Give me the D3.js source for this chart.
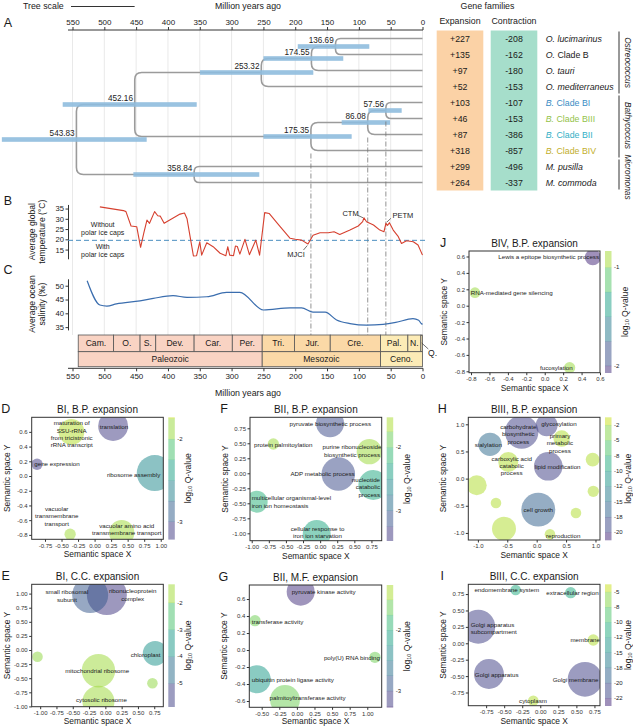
<!DOCTYPE html>
<html><head><meta charset="utf-8">
<script src="https://cdn.jsdelivr.net/npm/d3@7/dist/d3.min.js"></script>
<style>
body{margin:0;background:#fff}
svg{display:block}
text{font-family:"Liberation Sans",Arial,Helvetica,sans-serif;fill:#1a1a1a}
</style>
</head><body>
<svg id="c" width="633" height="726"></svg>
<script>
// ================= DATA =================
const ageTicks = [550,500,450,400,350,300,250,200,150,100,50,0];

const tipAbbr = ["O.","O.","O.","O.","B.","B.","B.","B.","M.","M."];
const tipRest = ["lucimarinus","Clade B","tauri","mediterraneus","Clade BI","Clade BIII","Clade BII","Clade BIV","pusilla","commoda"];
const tipRestItalic = [true,false,true,true,false,false,false,false,true,true];
const expansion = [227,135,97,52,103,46,87,318,299,264];
const contraction = [-208,-162,-180,-153,-107,-153,-386,-857,-496,-337];
const genera = ["Ostreococcus","Bathycoccus","Micromonas"];
const genusFirstTip = [0,4,8];
const genusLastTip = [3,7,9];

const nodeIds = ["n136","n174","n253","n57","n86","n175","n452","n358","n543"];
const nodeAges = [136.69,174.55,253.32,57.56,86.08,175.35,452.16,358.84,543.83];
const nodeKids = [[0,1],["n136",2],["n174",3],[4,5],["n57",6],["n86",7],["n253","n175"],[8,9],["n452","n358"]];
const nodeCiOld = [196,250,349.6,85,127,250,565.4,454.4,661];
const nodeCiYoung = [83.6,124.5,171.6,32.7,51,111.3,354.8,256.5,433.4];
const markedNodes = ["n175","n86","n57"];

const tempAges = [507,470,466,458,449,443,438,433,429,421,416,412,406,381,374,370,360,355,350,347,339,329,318,309,306,303,297,294,291,287,279,272,266,262,256,248,241,226,208,200,190,180,172,161,148,139,130,114,101,94,92,88,77,67,60.5,57.5,55,52,46,38,33,25,14.5,7,0];
const tempValues = [35.8,34,33.5,26.5,26.1,16.1,23,29.4,27.8,33.5,31.5,31.3,27.8,32.3,32.8,30,11.9,12,18.8,12.3,18.3,16.4,13.2,12,16.4,12.3,12,16.7,16.5,12.8,20,12.5,16.7,19.6,12.3,33,32.6,27,20.5,20,19.6,17.7,22,23.2,23.2,23.7,22.4,24.5,26.5,28.6,30.5,28.6,27,24.5,23.7,27.8,26.8,28.1,24.5,21.3,18,19.3,18.8,17.2,12.3];
const iceThreshold = 19.5;
const tempTicks = [15,20,25,30,35];
const events = ["MJCI","CTM","PETM"];
const eventAges = [179.5,91.9,57.5];
const eventTemps = [17.7,30.5,27.8];

const salAges = [527,507,496,481,444,423,392,370,339,308,287,250,208,190,172,153,135,114,88,62,42,15,6,2,0];
const salValues = [51.8,43,42.6,43.4,44.5,45.4,46.4,45.8,46,47.6,47.6,41.2,42,42,40.4,40.4,37.6,36.3,35.7,36,36.7,38.1,37.5,36.3,36];
const salTicks = [35,40,45,50];

const periods = ["Cam.","O.","S.","Dev.","Car.","Per.","Tri.","Jur.","Cre.","Pal.","N.",""];
const periodStart = [541,485.4,443.8,419.2,358.9,298.9,251.9,201.3,145,66,23,2.58];
const periodEnd = [485.4,443.8,419.2,358.9,298.9,251.9,201.3,145,66,23,2.58,0];
const periodEra = [0,0,0,0,0,0,1,1,1,2,2,2];
const eras = ["Paleozoic","Mesozoic","Ceno."];
const eraStart = [541,251.9,66];
const eraEnd = [251.9,66,0];

const panelD = [
 {label:["maturation of","SSU-rRNA","from tricistronic","rRNA transcript"], x:-0.35, y:0.60, size:42, q:-1.8, lx:-0.346, ly:0.724},
 {label:["translation"], x:0.28, y:0.68, size:56, q:-3.1, lx:0.293, ly:0.679},
 {label:["gene expression"], x:-0.87, y:0.16, size:8, q:-3.1, lx:-0.912, ly:0.173, anchor:"start"},
 {label:["ribosome assembly"], x:0.91, y:0.04, size:81, q:-2.55, lx:0.59, ly:0.027},
 {label:["vacuolar","transmembrane","transport"], x:-0.37, y:-0.79, size:8, q:-1.85, lx:-0.573, ly:-0.439},
 {label:["vacuolar amino acid","transmembrane transport"], x:0.41, y:-0.77, size:40, q:-1.85, lx:0.486, ly:-0.666}
];
const panelE = [
 {label:["small ribosomal","subunit"], x:-0.233, y:0.975, size:81, q:-5.0, lx:-0.59, ly:1.034},
 {label:["ribonucleoprotein","complex"], x:0.023, y:0.975, size:100, q:-5.6, lx:0.419, ly:1.051},
 {label:["chloroplast"], x:0.764, y:-0.059, size:38, q:-3.6, lx:0.618, ly:-0.071},
 {label:[], x:-1.041, y:-0.119, size:7, q:-1.8},
 {label:["mitochondrial ribosome"], x:-0.106, y:-0.367, size:70, q:-1.7, lx:-0.126, ly:-0.367},
 {label:[], x:0.722, y:-0.59, size:7, q:-1.8},
 {label:["cytosolic ribosome"], x:-0.106, y:-0.917, size:64, q:-1.7, lx:-0.06, ly:-0.869}
];
const panelF = [
 {label:["pyruvate biosynthetic process"], x:0.145, y:0.833, size:49, q:-3.2, lx:0.149, ly:0.822},
 {label:["protein palmitoylation"], x:-0.684, y:0.488, size:8, q:-1.7, lx:-0.966, ly:0.488, anchor:"start"},
 {label:["purine ribonucleoside","biosynthetic process"], x:0.719, y:0.36, size:40, q:-1.7, lx:0.466, ly:0.443},
 {label:["ADP metabolic process"], x:0.266, y:-0.012, size:70, q:-3.2, lx:0.035, ly:0.0},
 {label:["nucleotide","catabolic","process"], x:0.778, y:-0.195, size:56, q:-2.3, lx:0.876, ly:-0.1, anchor:"end"},
 {label:["multicellular organismal-level","iron ion homeostasis"], x:-0.927, y:-0.473, size:30, q:-2.2, lx:-1.0, ly:-0.407, anchor:"start"},
 {label:["cellular response to","iron ion starvation"], x:-0.05, y:-1.012, size:49, q:-2.3, lx:-0.038, ly:-0.917}
];
const panelG = [
 {label:["pyruvate kinase activity"], x:0.054, y:0.686, size:49, q:-3.2, lx:-0.074, ly:0.686, anchor:"start"},
 {label:["transferase activity"], x:-0.595, y:0.345, size:8, q:-1.6, lx:-0.642, ly:0.341, anchor:"start"},
 {label:["poly(U) RNA binding"], x:1.109, y:-0.086, size:8, q:-1.6, lx:1.18, ly:-0.086, anchor:"end"},
 {label:["ubiquitin protein ligase activity"], x:-0.571, y:-0.345, size:49, q:-2.2, lx:-0.642, ly:-0.345, anchor:"start"},
 {label:["palmitoyltransferase activity"], x:-0.169, y:-0.588, size:56, q:-1.6, lx:0.151, ly:-0.556}
];
const panelH = [
 {label:["carbohydrate","biosynthetic","process"], x:-0.255, y:0.858, size:70, q:-20, lx:-0.313, ly:0.963},
 {label:["glycosylation"], x:0.17, y:0.982, size:30, q:-20, lx:0.379, ly:1.013},
 {label:["sialylation"], x:-0.794, y:0.632, size:34, q:-16, lx:-0.823, ly:0.632},
 {label:["primary","metabolic","process"], x:0.425, y:0.737, size:17, q:-2, lx:0.396, ly:0.797},
 {label:["carboxylic acid","catabolic","process"], x:-0.483, y:0.306, size:25, q:-2, lx:-0.425, ly:0.379},
 {label:["lipid modification"], x:0.197, y:0.227, size:51, q:-20, lx:0.357, ly:0.227},
 {label:[], x:0.952, y:0.35, size:12, q:-2},
 {label:[], x:-1.02, y:-0.123, size:25, q:-2},
 {label:[], x:0.963, y:-0.234, size:8, q:-2},
 {label:[], x:-0.692, y:-0.449, size:7, q:-2},
 {label:["cell growth"], x:0.027, y:-0.571, size:72, q:-17, lx:0.027, ly:-0.571},
 {label:[], x:0.668, y:-0.634, size:7, q:-2},
 {label:[], x:-0.556, y:-0.921, size:36, q:-2},
 {label:["reproduction"], x:0.226, y:-1.026, size:7, q:-2, lx:0.158, ly:-1.039, anchor:"start"}
];
const panelI = [
 {label:["endomembrane system"], x:-0.341, y:0.813, size:7, q:-11, lx:-0.465, ly:0.823},
 {label:["extracellular region"], x:0.421, y:0.771, size:8, q:-11, lx:0.446, ly:0.771},
 {label:["Golgi apparatus","subcompartment"], x:-0.859, y:0.253, size:72, q:-22, lx:-0.964, ly:0.294, anchor:"start"},
 {label:["membrane"], x:0.734, y:0.05, size:8, q:-4, lx:0.827, ly:0.061, anchor:"end"},
 {label:["Golgi apparatus"], x:-0.711, y:-0.468, size:56, q:-22, lx:-0.604, ly:-0.473},
 {label:["Golgi membrane"], x:0.619, y:-0.549, size:75, q:-22, lx:0.488, ly:-0.549},
 {label:["cytoplasm"], x:-0.097, y:-0.875, size:7, q:-4, lx:-0.101, ly:-0.875}
];
const panelJ = [
 {label:["Lewis a epitope biosynthetic process"], x:0.522, y:0.59, size:16, q:-2.1, lx:0.043, ly:0.594},
 {label:["RNA-mediated gene silencing"], x:-0.757, y:0.159, size:7, q:-0.95, lx:-0.803, ly:0.159, anchor:"start"},
 {label:["fucosylation"], x:0.27, y:-0.756, size:8, q:-0.95, lx:0.126, ly:-0.751}
];
const binsH = [-2,-5,-8,-10,-12,-15,-18,-20];
const binsI = [-5,-8,-10,-12,-15,-18,-20,-22];

// ================= DRAWING =================
const svg = d3.select("#c");
const GRID = "#e6e6e6";
const tipColor = ["#1a1a1a","#1a1a1a","#1a1a1a","#1a1a1a","#3a8cc4","#93c24a","#33afc6","#c2ae2c","#1a1a1a","#1a1a1a"];

const xT = d3.scaleLinear().domain([550,0]).range([72.5,422.5]);
const yTip = d3.scaleLinear().domain([0,9]).range([38.5,182.5]);
const yTemp = d3.scaleLinear().domain([10.5,37]).range([258.8,204.45]);
const ySal = d3.scaleLinear().domain([34,52.5]).range([329.9,278.8]);

function txt(g,x,y,s,size,opts={}){
  const t = g.append("text").attr("x",x).attr("y",y).attr("font-size",size)
    .attr("text-anchor",opts.anchor||"start").attr("dominant-baseline","central").text(s);
  if(opts.fill) t.style("fill",opts.fill);
  if(opts.italic) t.attr("font-style","italic");
  if(opts.rotate!==undefined) t.attr("transform",`rotate(${opts.rotate},${x},${y})`);
  return t;
}

// Panel letters
[["A",8,23],["B",8,201],["C",8,270]].forEach(([l,x,y])=>txt(svg,x,y,l,12.5,{anchor:"middle"}));

// gridlines
svg.append("g").selectAll("line").data(ageTicks).join("line")
  .attr("x1",d=>xT(d)).attr("x2",d=>xT(d)).attr("y1",30).attr("y2",335)
  .attr("stroke",GRID).attr("stroke-width",0.9);

// top axis
const topAx = svg.append("g").attr("transform","translate(0,30)")
  .call(d3.axisTop(xT).tickValues(ageTicks).tickSize(3).tickSizeOuter(0).tickPadding(2));
topAx.select(".domain").remove();
topAx.selectAll("text").attr("font-size",8).style("fill","#222");
topAx.selectAll("line").attr("stroke","#333");
svg.append("line").attr("x1",68).attr("x2",423).attr("y1",30).attr("y2",30).attr("stroke","#333").attr("stroke-width",1);
txt(svg,248,6,"Million years ago",8.8,{anchor:"middle"});
txt(svg,23,6,"Tree scale",8.8);
svg.append("line").attr("x1",71).attr("x2",71+(xT(0)-xT(100))).attr("y1",6.5).attr("y2",6.5).attr("stroke","#333").attr("stroke-width",1);

// tree
const nodeIndex = {}; nodeIds.forEach((id,i)=>nodeIndex[id]=i);
function kidY(k){ return typeof k==="number" ? yTip(k) : nodeYof(nodeIndex[k]); }
function nodeYof(i){ return (kidY(nodeKids[i][0])+kidY(nodeKids[i][1]))/2; }
function kidX(k){ return typeof k==="number" ? xT(0) : xT(nodeAges[nodeIndex[k]]); }
const treeG = svg.append("g");
nodeIds.forEach((id,i)=>{
  const nx = xT(nodeAges[i]), ny = nodeYof(i);
  nodeKids[i].forEach(k=>{
    const ky = kidY(k), kx = kidX(k);
    const dir = Math.sign(ky-ny);
    const r = Math.min(7, Math.abs(ky-ny)*0.65);
    treeG.append("path").attr("d",`M${nx},${ny} V${ky-dir*r} Q${nx},${ky} ${nx+r},${ky} H${kx}`)
      .attr("fill","none").attr("stroke","#9b9b9b").attr("stroke-width",1.6);
  });
});
// CI bars
nodeIds.forEach((id,i)=>{
  const ny = nodeYof(i);
  treeG.append("rect").attr("x",xT(nodeCiOld[i])).attr("width",xT(nodeCiYoung[i])-xT(nodeCiOld[i]))
    .attr("y",ny-2.3).attr("height",4.6).attr("fill","#8fbcde").attr("fill-opacity",0.9);
});
nodeIds.forEach((id,i)=>{
  const nx = xT(nodeAges[i]), ny = nodeYof(i);
  treeG.append("text").attr("x",nx-1.8).attr("y",ny-3.2).attr("text-anchor","end").attr("font-size",8.2)
    .style("fill","#222").text(nodeAges[i].toFixed(2));
});

// dash-dot lines
markedNodes.forEach(id=>{
  const i = nodeIndex[id];
  const lowest = d3.max(nodeKids[i].map(kidY));
  svg.append("line").attr("x1",xT(nodeAges[i])).attr("x2",xT(nodeAges[i])).attr("y1",lowest+3).attr("y2",335)
    .attr("stroke","#777").attr("stroke-width",0.8).attr("stroke-dasharray","5,2,1,2");
});

// Table
const tab = svg.append("g");
const y0t = 30.5, y1t = 190.5;
tab.append("rect").attr("x",436.7).attr("y",y0t).attr("width",46.6).attr("height",y1t-y0t).attr("fill","#fbd2a6");
tab.append("rect").attr("x",490.7).attr("y",y0t).attr("width",46.6).attr("height",y1t-y0t).attr("fill","#a6decb");
txt(tab,487.5,6,"Gene families",8.8,{anchor:"middle"});
txt(tab,460,21,"Expansion",8.8,{anchor:"middle"});
txt(tab,514,21,"Contraction",8.8,{anchor:"middle"});
expansion.forEach((v,i)=>txt(tab,460,yTip(i),"+"+v,8.8,{anchor:"middle"}));
contraction.forEach((v,i)=>txt(tab,514,yTip(i),String(v),8.8,{anchor:"middle"}));
tipAbbr.forEach((a,i)=>{
  const t = tab.append("text").attr("x",545.7).attr("y",yTip(i)).attr("font-size",8.8).attr("dominant-baseline","central").style("fill",tipColor[i]);
  t.append("tspan").attr("font-style","italic").text(a+" ");
  t.append("tspan").attr("font-style",tipRestItalic[i]?"italic":"normal").text(tipRest[i]);
});
const genusShift = [0,-1,2.5];
genera.forEach((gname,i)=>{
  const a = yTip(genusFirstTip[i])-7, b = yTip(genusLastTip[i])+7;
  tab.append("line").attr("x1",619).attr("x2",619).attr("y1",a).attr("y2",b).attr("stroke","#333").attr("stroke-width",1);
  txt(tab,627.5,(a+b)/2+genusShift[i],gname,8.3,{anchor:"middle",italic:true,rotate:90});
});

// Panel B: temperature
const bG = svg.append("g");
const axB = bG.append("g").attr("transform","translate(68,0)")
  .call(d3.axisLeft(yTemp).tickValues(tempTicks).tickSize(2.5).tickSizeOuter(0).tickPadding(1.5));
axB.selectAll("text").attr("font-size",7.6).style("fill","#222");
axB.selectAll("line,path").attr("stroke","#333");
txt(bG,31.7,231.6,"Average global",8.6,{anchor:"middle",rotate:-90});
txt(bG,41.9,231.6,"temperature (°C)",8.6,{anchor:"middle",rotate:-90});
bG.append("line").attr("x1",68).attr("x2",428).attr("y1",yTemp(iceThreshold)).attr("y2",yTemp(iceThreshold))
  .attr("stroke","#4b8fc0").attr("stroke-width",1).attr("stroke-dasharray","5,3");
txt(bG,102.7,224,"Without",7,{anchor:"middle"});
txt(bG,102.7,232.7,"polar ice caps",7,{anchor:"middle"});
txt(bG,102.7,246,"With",7,{anchor:"middle"});
txt(bG,102.7,254.2,"polar ice caps",7,{anchor:"middle"});
const tempPts = tempAges.map((a,i)=>[a,tempValues[i]]);
bG.append("path").datum(tempPts).attr("d",d3.line().x(d=>xT(d[0])).y(d=>yTemp(d[1])))
  .attr("fill","none").attr("stroke","#d6402f").attr("stroke-width",1.1).attr("stroke-linejoin","round");
const evOff = {MJCI:[-12.3,10,-4.8,6,-1,1.5], CTM:[-13.5,-4.7,-7,-2.8,-1,0], PETM:[17,-7.4,5,-5,1,-1.3]};
events.forEach((e,i)=>{
  const px = xT(eventAges[i]), py = yTemp(eventTemps[i]); const o = evOff[e];
  txt(bG,px+o[0],py+o[1],e,7.5,{anchor:"middle"});
  bG.append("line").attr("x1",px+o[2]).attr("y1",py+o[3]).attr("x2",px+o[4]).attr("y2",py+o[5]).attr("stroke","#333").attr("stroke-width",0.7);
});

// Panel C: salinity
const cG = svg.append("g");
const axC = cG.append("g").attr("transform","translate(68,0)")
  .call(d3.axisLeft(ySal).tickValues(salTicks).tickSize(2.5).tickSizeOuter(0).tickPadding(1.5));
axC.selectAll("text").attr("font-size",7.6).style("fill","#222");
axC.selectAll("line,path").attr("stroke","#333");
txt(cG,31.7,304,"Average ocean",8.6,{anchor:"middle",rotate:-90});
txt(cG,41.9,304,"salinity (‰)",8.6,{anchor:"middle",rotate:-90});
const salPts = salAges.map((a,i)=>[a,salValues[i]]);
cG.append("path").datum(salPts).attr("d",d3.line().curve(d3.curveMonotoneX).x(d=>xT(d[0])).y(d=>ySal(d[1])))
  .attr("fill","none").attr("stroke","#3a6dae").attr("stroke-width",1.2);

// Geological timescale
const eraColor = ["#f9d3c3","#fbd9a7","#fcebb6"];
const geo = svg.append("g");
const gy0 = 335, gy1 = 351.7, gy2 = 366.7;
periods.forEach((p,i)=>{
  geo.append("rect").attr("x",xT(periodStart[i])).attr("y",gy0).attr("width",xT(periodEnd[i])-xT(periodStart[i])).attr("height",gy1-gy0)
    .attr("fill",eraColor[periodEra[i]]).attr("stroke","#555").attr("stroke-width",0.8);
  if(p) txt(geo,(xT(periodStart[i])+xT(periodEnd[i]))/2,(gy0+gy1)/2,p,8.6,{anchor:"middle"});
});
eras.forEach((e,i)=>{
  geo.append("rect").attr("x",xT(eraStart[i])).attr("y",gy1).attr("width",xT(eraEnd[i])-xT(eraStart[i])).attr("height",gy2-gy1)
    .attr("fill",eraColor[i]).attr("stroke","#555").attr("stroke-width",0.8);
  txt(geo,(xT(eraStart[i])+xT(eraEnd[i]))/2,(gy1+gy2)/2,e,8.6,{anchor:"middle"});
});
geo.append("line").attr("x1",xT(1.3)).attr("y1",343).attr("x2",428.3).attr("y2",349).attr("stroke","#333").attr("stroke-width",0.7);
txt(geo,428,353,"Q.",8.6);
// bottom axis
const botAx = svg.append("g").attr("transform","translate(0,368.3)")
  .call(d3.axisBottom(xT).tickValues(ageTicks).tickSize(3).tickSizeOuter(0).tickPadding(2));
botAx.select(".domain").remove();
botAx.selectAll("text").attr("font-size",8).style("fill","#222");
botAx.selectAll("line").attr("stroke","#333");
svg.append("line").attr("x1",68).attr("x2",423).attr("y1",368.3).attr("y2",368.3).attr("stroke","#333");
txt(svg,248,392.7,"Million years ago",8.8,{anchor:"middle"});

// ---------- bubble panels ----------
const rScale = d3.scaleSqrt().domain([0,100]).range([0,20]);
function colorT(t){ return d3.interpolateViridis(0.12 + 0.8*Math.max(0,Math.min(1,t))); }
const FILLOP = 0.52;
function fmt(v,dec){ const s = v.toFixed(dec); return s.startsWith("-") && +s===0 ? s.slice(1) : s; }

function bubblePanel(cfg, data){
  const [x0,y0,x1,y1] = cfg.box;
  const x = d3.scaleLinear().domain(cfg.xDom).range([x0,x1]);
  const y = d3.scaleLinear().domain(cfg.yDom).range([y1,y0]);
  const g = svg.append("g");
  const cid = "clip"+cfg.letter;
  svg.append("clipPath").attr("id",cid).append("rect").attr("x",x0).attr("y",y0).attr("width",x1-x0).attr("height",y1-y0);
  const lo = cfg.cbDom[0], hi = cfg.cbDom[1];
  const qT = q => (q-lo)/(hi-lo);
  g.append("g").attr("clip-path",`url(#${cid})`).selectAll("circle")
    .data(data.slice().sort((a,b)=>b.size-a.size)).join("circle")
    .attr("cx",d=>x(d.x)).attr("cy",d=>y(d.y)).attr("r",d=>rScale(d.size))
    .attr("fill",d=>colorT(qT(d.q))).attr("fill-opacity",FILLOP);
  data.forEach(d=>{
    if(!d.label.length) return;
    const t = g.append("text").attr("font-size",6.2).attr("text-anchor",d.anchor||"middle");
    d.label.forEach((s,i)=>t.append("tspan").attr("x",x(d.lx)).attr("y",y(d.ly)+i*7.4).attr("dominant-baseline","central").text(s));
  });
  g.append("rect").attr("x",x0).attr("y",y0).attr("width",x1-x0).attr("height",y1-y0)
    .attr("fill","none").attr("stroke","#333").attr("stroke-width",1);
  const xa = g.append("g").attr("transform",`translate(0,${y1})`)
    .call(d3.axisBottom(x).tickValues(cfg.xTicks).tickFormat(v=>fmt(v,cfg.xDec)).tickSize(2.5).tickSizeOuter(0).tickPadding(1.5));
  const ya = g.append("g").attr("transform",`translate(${x0},0)`)
    .call(d3.axisLeft(y).tickValues(cfg.yTicks).tickFormat(v=>fmt(v,cfg.yDec)).tickSize(2.5).tickSizeOuter(0).tickPadding(1.5));
  [xa,ya].forEach(a=>{ a.select(".domain").remove(); a.selectAll("line").attr("stroke","#333");
    a.selectAll("text").attr("font-size",6).style("fill","#333"); });
  txt(g,(x0+x1)/2,y0-7.8,cfg.title,10,{anchor:"middle"});
  txt(g,x0-26,y0-8.5,cfg.letter,12.5,{anchor:"middle"});
  txt(g,(x0+x1)/2,Math.min(y1+15,720.5),"Semantic space X",8.4,{anchor:"middle"});
  txt(g,x0-25,(y0+y1)/2,"Semantic space Y",8.4,{anchor:"middle",rotate:-90});
  // colorbar
  const cx = x1+5, w = 6.5;
  const cb = g.append("g");
  if(cfg.bins){
    const n = cfg.bins.length;
    const pos = d3.scalePoint().domain(d3.range(n)).range([y0,y1]).padding(0.5);
    const bounds = [y0, ...d3.range(n).map(pos), y1];
    for(let i=0;i<bounds.length-1;i++){
      cb.append("rect").attr("x",cx).attr("y",bounds[i]).attr("width",w).attr("height",bounds[i+1]-bounds[i]+0.3)
        .attr("fill",colorT(1-i/(bounds.length-2))).attr("fill-opacity",FILLOP);
    }
    cfg.bins.forEach((b,i)=>txt(cb,cx+w+2.5,pos(i),String(b),6));
  } else {
    const yc = d3.scaleLinear().domain([lo,hi]).range([y1,y0]);
    const bks = [lo, ...cfg.cbBreaks.filter(b=>b>lo&&b<hi).sort((a,b)=>a-b), hi];
    for(let i=0;i<bks.length-1;i++){
      const mid = (bks[i]+bks[i+1])/2;
      cb.append("rect").attr("x",cx).attr("y",yc(bks[i+1])).attr("width",w).attr("height",yc(bks[i])-yc(bks[i+1])+0.3)
        .attr("fill",colorT(qT(mid))).attr("fill-opacity",FILLOP);
    }
    cfg.cbTicks.forEach(tk=>txt(cb,cx+w+2.5,yc(tk),String(tk),6));
  }
  const lx = x1 + (cfg.bins ? 28 : 25);
  const lt = g.append("text").attr("x",lx).attr("y",(y0+y1)/2).attr("font-size",8.6).attr("text-anchor","middle")
    .attr("dominant-baseline","central").attr("transform",`rotate(-90,${lx},${(y0+y1)/2})`);
  lt.append("tspan").text("log");
  lt.append("tspan").attr("font-size",5.5).attr("dy",2).text("10");
  lt.append("tspan").attr("dy",-2).text(" Q-value");
}

const q25 = d3.range(-3.5,-0.49,0.25);
const t25a = [-1,-0.75,-0.5,-0.25,0,0.25,0.5,0.75];
bubblePanel({letter:"D",title:"BI, B.P. expansion",box:[31.7,417.3,163.3,539.3],xDom:[-0.951,1.039],yDom:[-0.86,0.798],
  xTicks:[-0.75,-0.5,-0.25,0,0.25,0.5,0.75,1],xDec:2,yTicks:[-0.8,-0.6,-0.4,-0.2,0,0.2,0.4,0.6],yDec:1,
  cbDom:[-3.214,-1.738],cbTicks:[-2,-3],cbBreaks:q25}, panelD);
bubblePanel({letter:"E",title:"BI, C.C. expansion",box:[31.7,584.3,163.3,706.7],xDom:[-1.13,0.889],yDom:[-1.005,1.165],
  xTicks:t25a,xDec:2,yTicks:[-1,-0.75,-0.5,-0.25,0,0.25,0.5,0.75,1],yDec:2,
  cbDom:[-5.87,-1.315],cbTicks:[-2,-3,-4,-5],cbBreaks:[-2,-3,-4,-5]}, panelE);
bubblePanel({letter:"F",title:"BII, B.P. expansion",box:[250,417.3,381.7,540.7],xDom:[-1.025,0.9],yDom:[-1.123,0.933],
  xTicks:t25a,xDec:2,yTicks:t25a,yDec:2,
  cbDom:[-3.474,-1.527],cbTicks:[-2,-3],cbBreaks:q25}, panelF);
bubblePanel({letter:"G",title:"BII, M.F. expansion",box:[249.3,585,381.7,707.3],xDom:[-0.676,1.205],yDom:[-0.674,0.765],
  xTicks:[-0.5,-0.25,0,0.25,0.5,0.75,1],xDec:2,yTicks:[-0.6,-0.4,-0.2,0,0.2,0.4,0.6],yDec:1,
  cbDom:[-3.27,-1.258],cbTicks:[-2,-3],cbBreaks:q25}, panelG);
bubblePanel({letter:"H",title:"BIII, B.P. expansion",box:[468.3,417.3,600,540],xDom:[-1.163,1.077],yDom:[-1.13,1.129],
  xTicks:[-1,-0.5,0,0.5,1],xDec:1,yTicks:[-1,-0.5,0,0.5,1],yDec:1,
  cbDom:[-22,-1],bins:binsH}, panelH);
bubblePanel({letter:"I",title:"BIII, C.C. expansion",box:[468.3,584.3,600,705.7],xDom:[-0.997,0.827],yDom:[-0.951,0.899],
  xTicks:[-0.75,-0.5,-0.25,0,0.25,0.5,0.75],xDec:2,yTicks:[-0.75,-0.5,-0.25,0,0.25,0.5,0.75],yDec:2,
  cbDom:[-24,-3],bins:binsI}, panelI);
bubblePanel({letter:"J",title:"BIV, B.P. expansion",box:[469,251,600,372.7],xDom:[-0.822,0.6],yDom:[-0.817,0.667],
  xTicks:[-0.8,-0.6,-0.4,-0.2,0,0.2,0.4,0.6],xDec:1,yTicks:[-0.8,-0.6,-0.4,-0.2,0,0.2,0.4,0.6],yDec:1,
  cbDom:[-2.07,-0.835],cbTicks:[-1,-2],cbBreaks:q25}, panelJ);
</script>
</body></html>
